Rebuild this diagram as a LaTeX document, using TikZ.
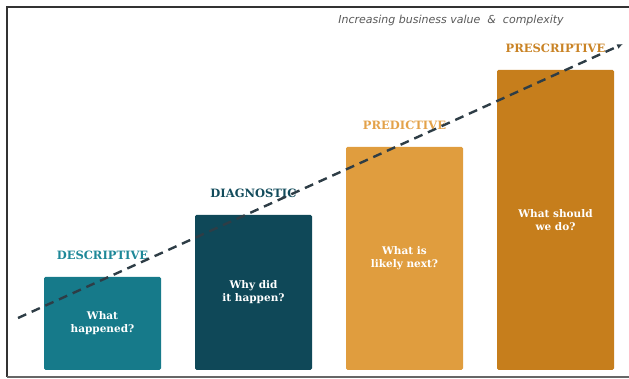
\documentclass[tikz,border=0pt]{standalone}
\usepackage{fontspec}
\setmainfont{DejaVu Serif}
\newfontfamily\notefont{DejaVu Sans}
\usepackage{tikz}
\usetikzlibrary{arrows.meta,positioning}
\usepackage{xcolor}

\definecolor{descr}{HTML}{167A8A}
\definecolor{diagn}{HTML}{0F4858}
\definecolor{predi}{HTML}{E09D3E}
\definecolor{presc}{HTML}{C67E1C}
\definecolor{descrtxt}{HTML}{1E8898}
\definecolor{diagntxt}{HTML}{134C5C}
\definecolor{preditxt}{HTML}{E3A24A}
\definecolor{presctxt}{HTML}{C98325}
\definecolor{trend}{HTML}{2E3D46}

\begin{document}
\begin{tikzpicture}[x=1pt, y=-1pt, >=Latex,
  every node/.style={align=center},
  bar/.style={rounded corners=1.5pt, minimum width=117pt, anchor=south,
    text=white, font=\fontsize{10.5}{13}\selectfont\bfseries, inner sep=0pt},
  level/.style={font=\fontsize{11.5}{12}\selectfont\bfseries, inner sep=0pt}]
\useasboundingbox (0,0) rectangle (629,379);
% frame
\draw[line width=1.8pt, black!80] (629,7) -- (7,7) -- (7,377);
\draw[line width=1.5pt, black!60] (7,377) -- (629,377);
% the four bars, bottom aligned
\node[bar, fill=descr, minimum height=93pt] (d1) at (102.5,370) {What\\happened?};
\node[bar, fill=diagn, minimum height=155pt] (d2) at (253.5,370) {Why did\\it happen?};
\node[bar, fill=predi, minimum height=223pt] (d3) at (404.5,370) {What is\\likely next?};
\node[bar, fill=presc, minimum height=300pt] (d4) at (555.5,370) {What should\\we do?};
% headings
\node[level, text=descrtxt, above=17pt of d1] (l1) {DESCRIPTIVE};
\node[level, text=diagntxt, above=17pt of d2] (l2) {DIAGNOSTIC};
\node[level, text=preditxt, above=17pt of d3] (l3) {PREDICTIVE};
\node[level, text=presctxt, above=17pt of d4] (l4) {PRESCRIPTIVE};
% trend line
\coordinate (t0) at (18,318);
\coordinate (t1) at (623,44);
\draw[->, trend, line width=2.4pt, dash pattern=on 9pt off 6pt, arrows={-Latex[length=6pt,width=5pt]}] (t0) -- (t1);
\node[font=\notefont\itshape\fontsize{11}{12}\selectfont, text=black!65] (note) at (451,20) {Increasing business value \ \& \ complexity};
\end{tikzpicture}
\end{document}
